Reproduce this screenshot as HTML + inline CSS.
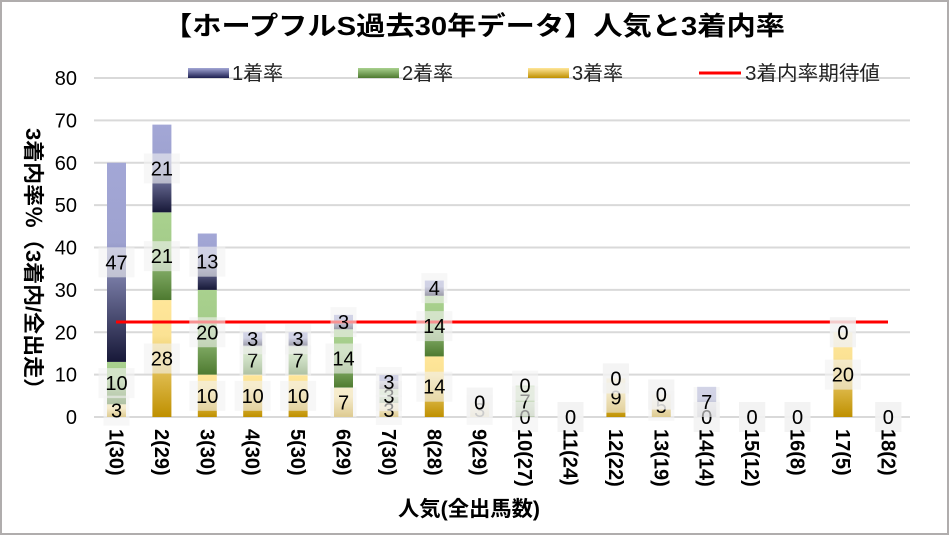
<!DOCTYPE html>
<html><head><meta charset="utf-8"><style>
html,body{margin:0;padding:0;background:#fff}
svg{display:block;font-family:"Liberation Sans","Noto Sans CJK JP",sans-serif}
</style></head><body>
<svg width="949" height="535" viewBox="0 0 949 535" xmlns="http://www.w3.org/2000/svg">
<defs>
<linearGradient id="gb" x1="0" y1="0" x2="0" y2="1"><stop offset="0" stop-color="#a3a7d6"/><stop offset="0.4" stop-color="#9ea2d0"/><stop offset="1" stop-color="#171838"/></linearGradient>
<linearGradient id="gg" x1="0" y1="0" x2="0" y2="1"><stop offset="0" stop-color="#a9d18e"/><stop offset="0.4" stop-color="#a4cc8a"/><stop offset="1" stop-color="#4e7a30"/></linearGradient>
<linearGradient id="gy" x1="0" y1="0" x2="0" y2="1"><stop offset="0" stop-color="#ffe699"/><stop offset="0.3" stop-color="#fbe294"/><stop offset="1" stop-color="#bf9000"/></linearGradient>
<linearGradient id="lb" x1="0" y1="0" x2="0" y2="1"><stop offset="0" stop-color="#a3a7d6"/><stop offset="1" stop-color="#1d1f50"/></linearGradient>
<linearGradient id="lg" x1="0" y1="0" x2="0" y2="1"><stop offset="0" stop-color="#a9d18e"/><stop offset="1" stop-color="#4e7a30"/></linearGradient>
<linearGradient id="ly" x1="0" y1="0" x2="0" y2="1"><stop offset="0" stop-color="#ffe699"/><stop offset="1" stop-color="#bf9000"/></linearGradient>
</defs>
<rect x="1" y="1" width="947" height="533" fill="#fff" stroke="#b0adad" stroke-width="2"/>
<text x="163" y="35" textLength="622" lengthAdjust="spacingAndGlyphs" font-size="26" font-weight="bold">【ホープフルS過去30年データ】人気と3着内率</text>
<g id="grid" stroke="#d9d9d9" stroke-width="2"></g>
<g id="ylab" font-size="20" text-anchor="end"></g>
<g id="bars"></g>
<line x1="116" y1="322" x2="888" y2="322" stroke="#ff0000" stroke-width="3"/>
<g id="labs" font-size="20" text-anchor="middle"></g>
<g id="xlab" font-size="20" font-weight="bold"></g>
<text transform="translate(26,128) rotate(90)" textLength="272" lengthAdjust="spacingAndGlyphs" font-size="21" font-weight="bold">3着内率％（3着内/全出走）</text>
<text x="398" y="516" textLength="142" lengthAdjust="spacingAndGlyphs" font-size="21" font-weight="bold">人気(全出馬数)</text>
<g font-size="20" fill="#222">
<rect x="188" y="68" width="41" height="10" fill="url(#lb)"/><text x="232" y="80">1着率</text>
<rect x="358" y="68" width="41" height="10" fill="url(#lg)"/><text x="402" y="80">2着率</text>
<rect x="528" y="68" width="41" height="10" fill="url(#ly)"/><text x="572" y="80">3着率</text>
<line x1="699" y1="73" x2="741" y2="73" stroke="#ff0000" stroke-width="3"/><text x="745" y="80" textLength="135" lengthAdjust="spacingAndGlyphs">3着内率期待値</text>
</g>
<script>
var NS="http://www.w3.org/2000/svg";
function el(p,t,a,txt){var e=document.createElementNS(NS,t);for(var k in a)e.setAttribute(k,a[k]);if(txt!==undefined)e.textContent=txt;document.getElementById(p).appendChild(e);return e;}
var y0=417,s=4.2375;
for(var i=0;i<=8;i++){var y=y0-i*10*s;el("grid","line",{x1:94,x2:910,y1:y,y2:y});el("ylab","text",{x:77,y:y+7},String(i*10));}
var d=[[3,10,47],[27.6,20.7,20.7],[10,20,13.3],[10,6.7,3.3],[10,6.7,3.3],[6.9,13.8,3.4],[3.3,3.3,3.3],[14.3,14.3,3.6],[3.4,0,0],[0,7.4,0],[0,0,0],[9.1,0,0],[5.3,0,0],[0,0,7.1],[0,0,0],[0,0,0],[20,0,0],[0,0,0]];
var xl=["1(30)","2(29)","3(30)","4(30)","5(30)","6(29)","7(30)","8(28)","9(29)","10(27)","11(24)","12(22)","13(19)","14(14)","15(12)","16(8)","17(5)","18(2)"];
var fills=["url(#gy)","url(#gg)","url(#gb)"];
var labs=[];
d.forEach(function(v,i){var cx=116.5+i*45.4;var c=0;
 for(var j=0;j<3;j++){var h=v[j]*s;var top=y0-(c+v[j])*s;
  if(h>0)el("bars","rect",{x:cx-9.5,y:top,width:19,height:h,fill:fills[j]});
  labs.push([cx,y0-(c+v[j]/2)*s,String(Math.round(v[j]))]);c+=v[j];}
 el("xlab","text",{transform:"translate("+(cx-7)+",429) rotate(90)"},xl[i]);
});
labs.forEach(function(l){var w=l[2].length>1?36:26;
 el("labs","rect",{x:l[0]-w/2,y:l[1]-15,width:w,height:30,fill:"#f2f2f2","fill-opacity":0.6});
 el("labs","text",{x:l[0],y:l[1]+7},l[2]);});
</script>
</svg>
</body></html>
